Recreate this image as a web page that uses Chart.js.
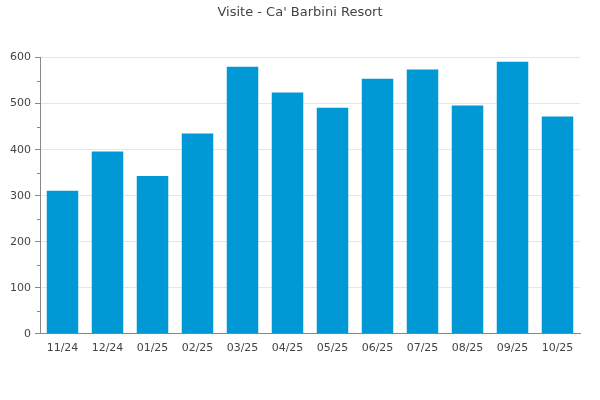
<!DOCTYPE html>
<html>
<head>
<meta charset="utf-8">
<script src="https://cdn.jsdelivr.net/npm/chart.js@4.4.1/dist/chart.umd.min.js"></script>
<style>
  html, body { margin: 0; padding: 0; background: #fff; }
  #wrap { width: 600px; height: 400px; }
</style>
</head>
<body>
<div id="wrap"><canvas id="barChart"></canvas></div>
<script>
// data
var months = ["11/24", "12/24", "01/25", "02/25", "03/25", "04/25", "05/25", "06/25", "07/25", "08/25", "09/25", "10/25"];
var visits = [311, 396, 343, 435, 580, 524, 491, 554, 574, 496, 591, 472];
var yTicks = [0, 100, 200, 300, 400, 500, 600];

// small ticks between the labelled ones
var minorTicks = {
  id: 'minorTicks',
  afterDraw: function(chart) {
    var y = chart.scales.y;
    var ctx = chart.ctx;
    ctx.save();
    ctx.strokeStyle = '#888';
    ctx.lineWidth = 1;
    for (var v = 50; v < 600; v += 100) {
      var py = Math.round(y.getPixelForValue(v)) + 0.5;
      ctx.beginPath();
      ctx.moveTo(y.right - 3, py);
      ctx.lineTo(y.right, py);
      ctx.stroke();
    }
    ctx.restore();
  }
};

Chart.defaults.font.family = "'DejaVu Sans', sans-serif";
Chart.defaults.color = '#444';

var ctx = document.getElementById("barChart").getContext('2d');
var myBarChart = new Chart(ctx, {
  type: 'bar',
  data: {
    labels: months,
    datasets: [{
      label: "Visite",
      data: visits,
      backgroundColor: '#0099d5',
      borderWidth: 0,
      categoryPercentage: 0.7,
      barPercentage: 1.0
    }]
  },
  options: {
    responsive: true,
    maintainAspectRatio: false,
    animation: false,
    layout: {
      padding: { left: 0, right: 0, top: 0, bottom: 37 }
    },
    plugins: {
      legend: { display: false },
      tooltip: { enabled: false },
      title: {
        display: true,
        text: "Visite - Ca' Barbini Resort",
        color: '#444',
        font: { size: 13, weight: 'normal' },
        padding: { top: 5, bottom: 37 }
      }
    },
    scales: {
      x: {
        grid: { display: false, drawTicks: false },
        border: { color: '#888' },
        ticks: { font: { size: 11 }, padding: 8, maxRotation: 0 }
      },
      y: {
        min: 0,
        max: 600,
        afterBuildTicks: function(scale) {
          scale.ticks = yTicks.map(function(v) { return { value: v }; });
        },
        afterFit: function(scale) { scale.width = 40; },
        grid: { color: '#e6e6e6', tickColor: '#888', tickLength: 5 },
        border: { color: '#888' },
        ticks: { font: { size: 11 }, padding: 4 }
      },
      // empty right-hand margin so the title stays centred on the page
      yRight: {
        position: 'right',
        min: 0,
        max: 600,
        afterFit: function(scale) { scale.width = 20; },
        grid: { display: false, drawTicks: false },
        border: { display: false },
        ticks: { display: false }
      }
    }
  },
  plugins: [minorTicks]
});
</script>
</body>
</html>
